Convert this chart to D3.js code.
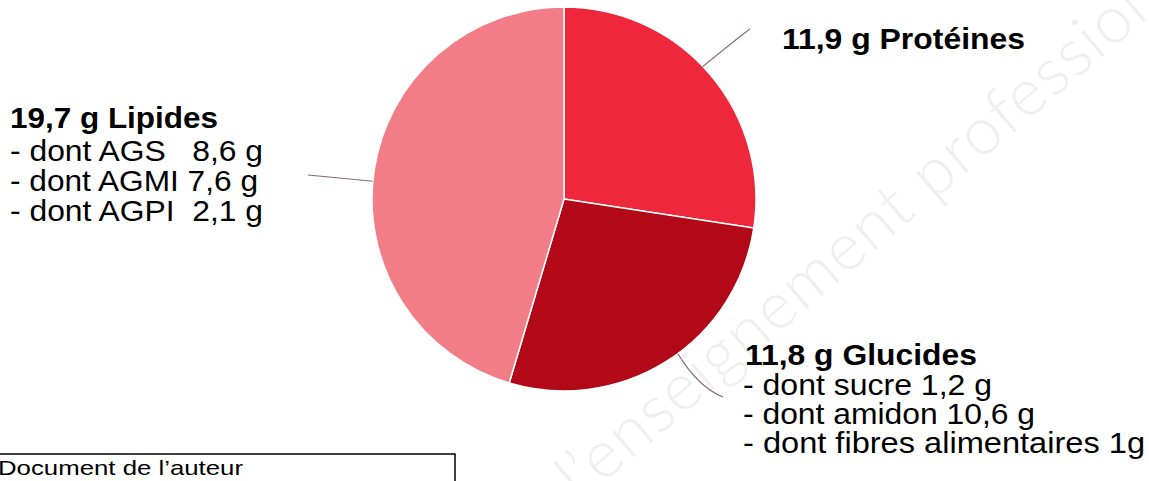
<!DOCTYPE html>
<html>
<head>
<meta charset="utf-8">
<script src="https://cdn.jsdelivr.net/npm/d3@7"></script>
<style>
  html, body { margin: 0; padding: 0; background: #fff; }
  svg { display: block; }
</style>
</head>
<body>
<svg id="chart" width="1149" height="481"></svg>
<script>
// ---- data ----
const categories = ["Protéines", "Glucides", "Lipides"];
const values = [11.9, 11.8, 19.7];
const headings = ["11,9 g Protéines", "11,8 g Glucides", "19,7 g Lipides"];
const detailsProteines = [];
const detailsGlucides = ["- dont sucre 1,2 g", "- dont amidon 10,6 g", "- dont fibres alimentaires 1g"];
const detailsLipides = ["- dont AGS\u00a0\u00a0 8,6 g", "- dont AGMI 7,6 g", "- dont AGPI\u00a0 2,1 g"];
const sourceNote = "Document de l\u2019auteur";
const watermark = "l\u2019enseignement professionnel";

// ---- styles / layout ----
const colors = ["#EE283A", "#B20818", "#F37D87"];
const cx = 564, cy = 199, R = 192;
const fontFamily = "'Liberation Sans', Arial, Helvetica, sans-serif";
const fontSize = 29;

const svg = d3.select("#chart");

// watermark
svg.append("text")
  .attr("transform", "translate(580,503) rotate(-40.5)")
  .attr("font-family", "Lato, 'Open Sans', sans-serif")
  .attr("font-weight", 300)
  .attr("font-size", 66)
  .attr("letter-spacing", 1.5)
  .attr("fill", "#efefef")
  .text(watermark);

// pie
const pie = d3.pie().sort(null).value(d => d)(values);
const arc = d3.arc().innerRadius(0).outerRadius(R);
const g = svg.append("g").attr("transform", `translate(${cx},${cy})`);
g.selectAll("path.slice")
  .data(pie)
  .join("path")
  .attr("class", "slice")
  .attr("d", arc)
  .attr("fill", (d, i) => colors[i])
  .attr("stroke", "#ffffff")
  .attr("stroke-width", 1.5);

// leader lines (start on pie edge, end near label)
const leaderOffsetDeg = [-3, -4, -3];
const leaderEnds = [[750, 29], [723, 397], [308, 175]];
const leaderBend = [[9, -8], [-2, 12], [0, 0]];
function edgePoint(angle) {
  return [cx + R * Math.sin(angle), cy - R * Math.cos(angle)];
}
pie.forEach((d, i) => {
  const a = (d.startAngle + d.endAngle) / 2 + leaderOffsetDeg[i] * Math.PI / 180;
  const s = edgePoint(a);
  const e = leaderEnds[i];
  const c = [(s[0] + e[0]) / 2 + leaderBend[i][0], (s[1] + e[1]) / 2 + leaderBend[i][1]];
  const p = d3.path();
  p.moveTo(s[0], s[1]);
  p.quadraticCurveTo(c[0], c[1], e[0], e[1]);
  svg.append("path")
    .attr("d", p.toString())
    .attr("fill", "none")
    .attr("stroke", "#8a6870")
    .attr("stroke-width", 1.1);
});

// labels
const labelBlocks = [
  { x: 782, y: 49, headW: 243, lines: detailsProteines, lineX: 782, lineY: [], lineW: [] },
  { x: 745, y: 365, headW: 232, lines: detailsGlucides, lineX: 743, lineY: [395, 424, 453], lineW: [249, 292, 402] },
  { x: 10, y: 128, headW: 208, lines: detailsLipides, lineX: 10, lineY: [161, 191, 221], lineW: [253, 248, 253] }
];
labelBlocks.forEach((b, i) => {
  svg.append("text")
    .attr("x", b.x).attr("y", b.y)
    .attr("font-family", fontFamily)
    .attr("font-weight", "bold")
    .attr("font-size", fontSize)
    .attr("fill", "#000")
    .attr("textLength", b.headW)
    .attr("lengthAdjust", "spacingAndGlyphs")
    .text(headings[i]);
  b.lines.forEach((t, j) => {
    svg.append("text")
      .attr("x", b.lineX).attr("y", b.lineY[j])
      .attr("font-family", fontFamily)
      .attr("font-size", fontSize)
      .attr("fill", "#000")
      .attr("textLength", b.lineW[j])
      .attr("lengthAdjust", "spacingAndGlyphs")
      .text(t);
  });
});

// source box
svg.append("rect")
  .attr("x", -5).attr("y", 454)
  .attr("width", 460).attr("height", 40)
  .attr("fill", "none")
  .attr("stroke", "#000")
  .attr("stroke-width", 1.5);
svg.append("text")
  .attr("x", -2).attr("y", 475)
  .attr("font-family", fontFamily)
  .attr("font-size", 21)
  .attr("fill", "#000")
  .attr("textLength", 245)
  .attr("lengthAdjust", "spacingAndGlyphs")
  .text(sourceNote);
</script>
</body>
</html>
